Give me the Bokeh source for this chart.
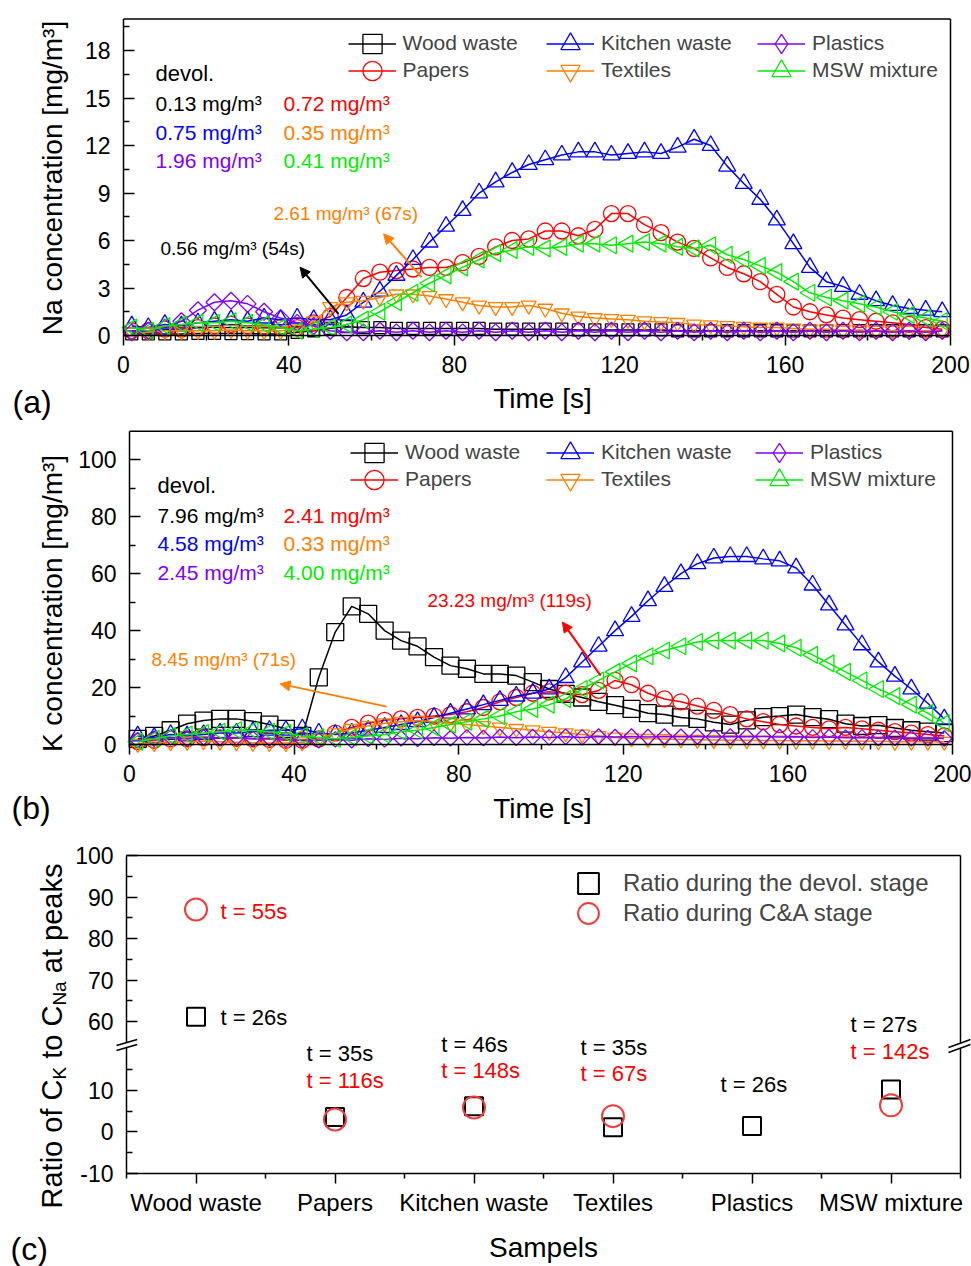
import math
import numpy as np
from bokeh.plotting import figure
from bokeh.layouts import column
from bokeh.models import (Range1d, FixedTicker, Legend, LegendItem, Label, Arrow,
                          NormalHead, CustomJSTickFormatter)
from bokeh.embed import file_html
from bokeh.resources import INLINE

FONT = "Liberation Sans"
BLACK, RED, BLUE, ORANGE, PURPLE, GREEN = "#000000", "#FF0000", "#0000FF", "#FF8000", "#8000FF", "#00EE00"

# ---------------- data ----------------
series_names = ["Wood waste", "Papers", "Kitchen waste", "Textiles", "Plastics", "MSW mixture"]
time_s = list(range(2, 200, 4))   # sampling times [s]

na_wood = [0.1, 0.1, 0.1, 0.1, 0.13, 0.13, 0.12, 0.12, 0.1, 0.1,
           0.2, 0.3, 0.45, 0.56, 0.5, 0.5, 0.45, 0.45, 0.45, 0.45,
           0.45, 0.45, 0.4, 0.4, 0.4, 0.4, 0.4, 0.35, 0.35, 0.35,
           0.35, 0.35, 0.35, 0.3, 0.3, 0.3, 0.3, 0.3, 0.3, 0.3,
           0.3, 0.3, 0.3, 0.3, 0.3, 0.3, 0.3, 0.3, 0.3, 0.3]
na_papers = [0.3, 0.3, 0.4, 0.4, 0.5, 0.6, 0.7, 0.6, 0.6, 0.5,
             0.5, 0.8, 1.2, 2.4, 3.6, 4.0, 4.1, 4.2, 4.3, 4.3,
             4.6, 5.0, 5.6, 6.0, 6.1, 6.6, 6.6, 6.3, 6.7, 7.7,
             7.7, 7.0, 6.5, 5.9, 5.5, 4.9, 4.3, 3.9, 3.4, 2.6,
             1.8, 1.5, 1.3, 1.1, 1.0, 0.9, 0.8, 0.7, 0.5, 0.4]
na_kitchen = [0.6, 0.5, 0.7, 0.6, 0.8, 0.9, 1.0, 0.9, 1.1, 1.0,
              1.1, 1.0, 1.0, 1.3, 2.1, 2.8, 3.8, 4.8, 5.9, 6.9,
              7.9, 9.0, 9.7, 10.3, 10.8, 11.1, 11.4, 11.6, 11.6, 11.4,
              11.5, 11.6, 11.5, 11.9, 12.4, 12.0, 10.7, 9.6, 8.6, 7.3,
              5.8, 4.3, 3.4, 3.1, 2.6, 2.2, 1.9, 1.7, 1.6, 1.5]
na_textiles = [0.2, 0.2, 0.3, 0.3, 0.3, 0.3, 0.35, 0.3, 0.3, 0.3,
               0.4, 0.9, 1.8, 2.1, 2.2, 2.4, 2.6, 2.6, 2.5, 2.3,
               2.1, 1.9, 1.8, 1.8, 1.9, 1.7, 1.4, 1.2, 1.1, 1.05,
               1.0, 0.9, 0.85, 0.8, 0.7, 0.65, 0.6, 0.55, 0.5, 0.5,
               0.45, 0.4, 0.4, 0.35, 0.35, 0.3, 0.3, 0.3, 0.3, 0.3]
na_plastics = [0.2, 0.3, 0.5, 0.9, 1.6, 2.1, 2.2, 2.0, 1.5, 1.1,
               0.8, 0.6, 0.3, 0.2, 0.2, 0.3, 0.2, 0.3, 0.2, 0.3,
               0.2, 0.3, 0.2, 0.3, 0.2, 0.3, 0.2, 0.3, 0.2, 0.3,
               0.2, 0.3, 0.2, 0.3, 0.2, 0.3, 0.2, 0.3, 0.2, 0.3,
               0.2, 0.3, 0.2, 0.3, 0.2, 0.3, 0.2, 0.3, 0.2, 0.3]
na_msw = [0.5, 0.3, 0.6, 0.7, 0.8, 0.8, 0.9, 0.8, 0.7, 0.5,
          0.3, 0.4, 0.5, 0.7, 1.0, 1.5, 2.1, 2.7, 3.3, 3.8,
          4.3, 4.8, 5.2, 5.4, 5.6, 5.5, 5.6, 5.8, 5.8, 5.7,
          5.8, 5.9, 5.8, 5.6, 5.5, 5.7, 5.1, 4.8, 4.4, 4.0,
          3.4, 2.7, 2.4, 2.2, 2.0, 1.8, 1.5, 1.3, 1.1, 0.9]

k_wood = [2.0, 3.0, 5.0, 7.3, 8.4, 9.0, 9.0, 8.2, 7.0, 5.5,
          3.0, 23.6, 39.5, 48.5, 45.9, 40.0, 36.5, 34.5, 30.7, 27.7,
          26.6, 24.8, 24.8, 24.2, 21.9, 19.5, 17.8, 16.5, 15.0, 13.8,
          12.5, 11.0, 10.5, 9.5, 9.0, 7.8, 7.0, 8.5, 9.6, 10.0,
          10.5, 9.6, 8.9, 7.3, 6.5, 6.8, 5.8, 5.0, 4.5, 4.0]
k_papers = [1.0, 1.5, 2.0, 2.0, 2.4, 2.3, 2.2, 2.0, 1.8, 1.5,
            1.5, 2.0, 4.0, 6.0, 7.5, 8.5, 9.0, 9.5, 10.0, 10.5,
            11.5, 13.0, 15.0, 16.5, 18.0, 18.5, 18.0, 17.5, 19.0, 22.5,
            21.0, 18.0, 16.0, 15.0, 13.5, 12.0, 10.5, 9.0, 8.0, 7.0,
            6.5, 6.0, 5.5, 6.0, 5.5, 5.0, 4.5, 4.0, 3.5, 3.0]
k_kitchen = [3.0, 2.5, 3.5, 3.0, 3.5, 4.0, 4.0, 4.5, 5.0, 5.0,
             5.5, 4.0, 3.5, 4.0, 5.0, 6.0, 7.0, 8.0, 9.5, 11.0,
             12.5, 14.0, 15.5, 17.0, 18.0, 19.5, 23.5, 29.0, 34.5, 40.0,
             45.0, 50.5, 55.5, 60.0, 63.5, 65.5, 66.0, 66.0, 65.2, 64.5,
             62.0, 56.0, 49.0, 42.0, 35.0, 29.0, 24.0, 19.5, 14.5, 9.0]
k_textiles = [0.3, 0.5, 0.8, 1.0, 1.2, 1.0, 0.8, 0.6, 0.5, 0.5,
              0.8, 2.0, 4.0, 5.5, 6.5, 7.5, 8.0, 8.4, 8.0, 7.5,
              7.0, 6.5, 6.0, 5.5, 5.0, 4.5, 4.0, 3.5, 3.0, 2.5,
              2.2, 2.0, 1.9, 1.8, 1.7, 1.6, 1.5, 1.5, 1.4, 1.4,
              1.3, 1.3, 1.2, 1.2, 1.1, 1.1, 1.0, 1.0, 1.0, 1.0]
k_plastics = [1.5, 2.0, 2.5, 2.0, 2.5, 2.4, 2.5, 2.0, 2.2, 1.8,
              1.5, 1.5, 1.8, 1.5, 2.0, 1.8, 2.2, 2.0, 2.4, 2.2,
              2.5, 2.3, 2.6, 2.4, 2.6, 2.5, 2.7, 2.5, 2.8, 2.6,
              2.8, 2.6, 2.8, 2.7, 2.8, 2.6, 2.8, 2.7, 2.8, 2.6,
              2.7, 2.5, 2.6, 2.4, 2.5, 2.3, 2.4, 2.2, 2.3, 2.1]
k_msw = [1.0, 2.0, 3.0, 3.5, 4.0, 4.5, 5.0, 5.0, 4.5, 4.0,
         3.0, 2.5, 2.0, 2.5, 3.0, 3.5, 4.5, 5.0, 6.0, 7.0,
         8.0, 9.0, 10.0, 11.5, 12.5, 14.0, 16.0, 19.5, 22.5, 25.5,
         28.5, 31.0, 33.0, 34.5, 36.0, 36.5, 36.5, 36.5, 36.5, 35.5,
         34.0, 31.5, 28.5, 25.5, 22.5, 19.5, 17.0, 14.0, 11.0, 7.5]

# devolatilisation-stage peak concentrations (same order as series_names)
na_devol = [0.13, 0.72, 0.75, 0.35, 1.96, 0.41]
k_devol = [7.96, 2.41, 4.58, 0.33, 2.45, 4.00]

# panel (c): ratio of C_K to C_Na at peaks
ratio_devol = [61.2, 3.6, 6.2, 1.1, 1.4, 10.2]
ratio_ca = [87.0, 3.0, 5.9, 3.8, np.nan, 6.4]
devol_peak_time = [26, 35, 46, 35, 26, 27]
ca_peak_time = [55, 116, 148, 67, None, 142]

na_series = [na_wood, na_papers, na_kitchen, na_textiles, na_plastics, na_msw]
k_series = [k_wood, k_papers, k_kitchen, k_textiles, k_plastics, k_msw]

# styles: colour, marker, angle, size in (a), size in (b), legend marker
styles = [
    (BLACK, "square", 0.0, 12, 17, "square"),
    (RED, "circle", 0.0, 16, 16, "circle"),
    (BLUE, "triangle", 0.0, 17, 17, "triangle"),
    (ORANGE, "inverted_triangle", 0.0, 15, 15, "inverted_triangle"),
    (PURPLE, "square", math.pi / 4, 12, 11, "diamond"),
    (GREEN, "triangle", math.pi / 2, 17, 17, "triangle"),
]
devol_colors = [BLACK, RED, BLUE, ORANGE, PURPLE, GREEN]


def canvas_fig(height, xr, yr):
    # the frame fills the whole canvas; axes are pinned to the plot box edges
    p = figure(width=971, height=height, x_range=xr, y_range=yr,
               output_backend="svg", toolbar_location=None,
               min_border=0, min_border_left=0, min_border_right=0,
               min_border_top=0, min_border_bottom=0)
    p.grid.visible = False
    p.background_fill_color = "white"
    p.border_fill_color = "white"
    p.outline_line_color = None
    for ax in p.axis:
        ax.axis_line_color = None
        ax.major_tick_line_width = 1.5
        ax.minor_tick_line_width = 1.5
        ax.major_label_text_font = FONT
        ax.major_label_text_font_size = "23px"
        ax.major_label_text_color = "black"
    p.xaxis.major_tick_in = 0
    p.xaxis.major_tick_out = 10
    p.xaxis.minor_tick_in = 0
    p.xaxis.minor_tick_out = 5
    p.yaxis.major_tick_in = 11
    p.yaxis.major_tick_out = 0
    p.yaxis.minor_tick_in = 6
    p.yaxis.minor_tick_out = 0
    p.xaxis.major_label_standoff = 10
    p.yaxis.major_label_standoff = 13
    return p


def add_label(p, x, y, text, color=BLACK, size="21px", align="left",
              baseline="middle", angle=0.0):
    p.add_layout(Label(x=x, y=y, text=text, text_color=color, text_font=FONT,
                       text_font_size=size, text_align=align,
                       text_baseline=baseline, angle=angle))


def add_arrow(p, xs, ys, xe, ye, color):
    p.add_layout(Arrow(end=NormalHead(size=10, fill_color=color, line_color=color, line_width=1),
                       x_start=xs, y_start=ys, x_end=xe, y_end=ye,
                       line_color=color, line_width=2))


def seg(p, x0, y0, x1, y1, w=1.5):
    p.add_layout(Arrow(start=None, end=None, x_start=x0, y_start=y0, x_end=x1, y_end=y1,
                       line_color=BLACK, line_width=w))


def box(p, x0, x1, y0, y1):
    seg(p, x0, y0, x1, y0)
    seg(p, x0, y1, x1, y1)
    seg(p, x0, y0, x0, y1)
    seg(p, x1, y0, x1, y1)


def single_legend(p, item, left, bottom, gw, gh, fs, standoff):
    p.add_layout(Legend(items=[item], location=(left, bottom), orientation="vertical",
                        glyph_width=gw, glyph_height=gh, spacing=0, padding=0, margin=0,
                        border_line_color=None, background_fill_alpha=0.0,
                        label_text_font=FONT, label_text_font_size=fs,
                        label_standoff=standoff))


def time_panel(height, top, tx, vy, ymax, yticks, yminor, data, size_idx,
               legend_lefts, legend_rows):
    p = canvas_fig(height, Range1d(tx(0), tx(971)), Range1d(vy(top + height), vy(top)))
    p.xaxis.fixed_location = 0
    p.yaxis.fixed_location = 0
    p.xaxis.ticker = FixedTicker(ticks=[0, 40, 80, 120, 160, 200],
                                 minor_ticks=[20, 60, 100, 140, 180])
    p.yaxis.ticker = FixedTicker(ticks=yticks, minor_ticks=yminor)
    items = []
    for name, vals, st in zip(series_names, data, styles):
        color, marker, ang, sa, sb, lmarker = st
        size = sa if size_idx == 0 else sb
        rl = p.line(time_s, vals, line_color=color, line_width=1.5)
        rs = p.scatter(time_s, vals, marker=marker, angle=ang, size=size,
                       line_color=color, fill_color=None, line_width=1.3)
        if lmarker != marker:
            # legend key only (no data drawn)
            rs = p.scatter(np.array([np.nan]), np.array([np.nan]), marker=lmarker, size=size,
                           line_color=color, fill_color=None, line_width=1.3)
        items.append(LegendItem(label=name, renderers=[rl, rs]))
    box(p, 0, 200, 0, ymax)
    for i, it in enumerate(items):
        lx = legend_lefts[i // 2]
        cy = legend_rows[i % 2] - top
        single_legend(p, it, lx, height - cy - 27.5, 48, 55, "21px", 7)
    return p


# ---------------- panel (a) ----------------
def ax_a(px): return (px - 123) / 4.135
def ay_a(py): return (335 - py) / 15.83


pa = time_panel(420, 0, ax_a, ay_a, 20, [0, 3, 6, 9, 12, 15, 18],
                [1.5, 4.5, 7.5, 10.5, 13.5, 16.5, 19.5], na_series, 0,
                [347.5, 546, 757], [43, 70])
add_label(pa, ax_a(155), ay_a(73), "devol.", size="22px")
rows_a = [103.3, 131.7, 160]
for i, (v, c) in enumerate(zip(na_devol, devol_colors)):
    colx = 155 if i % 2 == 0 else 283
    add_label(pa, ax_a(colx), ay_a(rows_a[i // 2]), f"{v:.2f} mg/m³", color=c)
add_label(pa, ax_a(160), ay_a(248), "0.56 mg/m³ (54s)", size="19px")
add_label(pa, ax_a(273), ay_a(213), "2.61 mg/m³ (67s)", color=ORANGE, size="19px")
add_arrow(pa, 52.0, 1.37, 42.7, 4.31, BLACK)
add_arrow(pa, 72.1, 3.68, 62.9, 6.42, ORANGE)
add_label(pa, ax_a(542), ay_a(398), "Time [s]", size="28px", align="center")
add_label(pa, ax_a(52), ay_a(177.5), "Na concentration [mg/m³]", size="28px",
          align="center", baseline="alphabetic", angle=math.pi / 2)
add_label(pa, ax_a(12), ay_a(401), "(a)", size="32px")


# ---------------- panel (b) ----------------
def ax_b(px): return (px - 129) / 4.115
def ay_b(py): return (744 - py) / 2.847


pb = time_panel(410, 420, ax_b, ay_b, 110, [0, 20, 40, 60, 80, 100],
                [10, 30, 50, 70, 90], k_series, 1,
                [350, 546, 755], [452, 479])
add_label(pb, ax_b(157), ay_b(485), "devol.", size="22px")
rows_b = [515, 543.3, 571.7]
for i, (v, c) in enumerate(zip(k_devol, devol_colors)):
    colx = 157 if i % 2 == 0 else 283
    add_label(pb, ax_b(colx), ay_b(rows_b[i // 2]), f"{v:.2f} mg/m³", color=c)
add_label(pb, ax_b(151), ay_b(659), "8.45 mg/m³ (71s)", color=ORANGE, size="19px")
add_label(pb, ax_b(427), ay_b(600), "23.23 mg/m³ (119s)", color=RED, size="19px")
add_arrow(pb, 62.5, 13.3, 36.6, 21.3, ORANGE)
add_arrow(pb, 114.5, 24.2, 105.2, 43.0, RED)
add_label(pb, ax_b(542), ay_b(808), "Time [s]", size="28px", align="center")
add_label(pb, ax_b(52), ay_b(603), "K concentration [mg/m³]", size="28px",
          align="center", baseline="alphabetic", angle=math.pi / 2)
add_label(pb, ax_b(11), ay_b(807), "(b)", size="32px")

# ---------------- panel (c) ----------------
BREAK_AT, BREAK_SHIFT = 21.0, 33.5


def disp(v):
    return v - BREAK_SHIFT if v > BREAK_AT else v


def ax_c(px): return 0.5 + (px - 126) / 139
def ay_c(py): return (1173 - py) / 4.157 - 10


pc = canvas_fig(436, Range1d(ax_c(0), ax_c(971)), Range1d(ay_c(1266), ay_c(830)))
pc.xaxis.fixed_location = -10
pc.yaxis.fixed_location = 0.5
pc.xaxis.major_label_standoff = 5
xs_c = list(range(1, len(series_names) + 1))
pc.xaxis.ticker = FixedTicker(ticks=xs_c, minor_ticks=[0.5, 1.5, 2.5, 3.5, 4.5, 5.5, 6.5])
pc.xaxis.major_label_overrides = {i + 1: n for i, n in enumerate(series_names)}
pc.xaxis.major_label_text_font_size = "24px"
upper_major = [60, 70, 80, 90, 100]
upper_minor = [65, 75, 85, 95]
pc.yaxis.ticker = FixedTicker(ticks=[-10, 0, 10] + [disp(v) for v in upper_major],
                              minor_ticks=[-5, 5, 15] + [disp(v) for v in upper_minor])
pc.yaxis.formatter = CustomJSTickFormatter(
    args=dict(at=BREAK_AT, shift=BREAK_SHIFT),
    code="return (tick > at ? tick + shift : tick).toFixed(0);")

r_sq = pc.scatter(xs_c, [disp(v) for v in ratio_devol], marker="square", size=18,
                  line_color=BLACK, fill_color=None, line_width=2)
r_ci = pc.scatter(xs_c, np.array([disp(v) for v in ratio_ca]), marker="circle", size=22,
                  line_color="#F23A3A", fill_color=None, line_width=2)
single_legend(pc, LegendItem(label="Ratio during the devol. stage", renderers=[r_sq]),
              562, 436 - (883 - 830) - 26, 52, 52, "24px", 9)
single_legend(pc, LegendItem(label="Ratio during C&A stage", renderers=[r_ci]),
              562, 436 - (913 - 830) - 26, 52, 52, "24px", 9)

# peak-time annotations
ann_pos = [((220, 1017), (220, 911)), ((306, 1053), (306, 1080)), ((440.7, 1044), (440.7, 1070)),
           ((580, 1046.7), (580, 1073.3)), ((720, 1084), None), ((850, 1024.3), (850, 1051))]
for (pd, pca), td, tc in zip(ann_pos, devol_peak_time, ca_peak_time):
    add_label(pc, ax_c(pd[0]), ay_c(pd[1]), f"t = {td}s", size="22px")
    if tc is not None:
        add_label(pc, ax_c(pca[0]), ay_c(pca[1]), f"t = {tc}s", color=RED, size="22px")

# y-axis title with subscripts
ypieces = [("Ratio of C", "29px", 51, 1208), ("K", "19px", 59, 1079.1),
           ("to C", "29px", 51, 1058.3), ("Na", "19px", 59, 1005.1),
           ("at peaks", "29px", 51, 972.7)]
for txt, fs, bx, by in ypieces:
    add_label(pc, ax_c(bx), ay_c(by), txt, size=fs, baseline="alphabetic", angle=math.pi / 2)

# plot box with axis breaks
top_c = disp(100)
seg(pc, 0.5, top_c, 6.5, top_c)
seg(pc, 0.5, -10, 6.5, -10)
seg(pc, 0.5, -10, 0.5, ay_c(1047.1))
seg(pc, 0.5, ay_c(1042.1), 0.5, top_c)
seg(pc, 6.5, -10, 6.5, ay_c(1048))
seg(pc, 6.5, ay_c(1043), 6.5, top_c)
seg(pc, ax_c(116), ay_c(1045), ax_c(136.7), ay_c(1039))
seg(pc, ax_c(116), ay_c(1050), ax_c(136.7), ay_c(1044))
seg(pc, ax_c(948), ay_c(1047), ax_c(970), ay_c(1039))
seg(pc, ax_c(948), ay_c(1052), ax_c(970), ay_c(1044))
add_label(pc, ax_c(543), ay_c(1247), "Sampels", size="28px", align="center")
add_label(pc, ax_c(10), ay_c(1248), "(c)", size="32px")

layout = column(pa, pb, pc, spacing=0)
open("out.html", "w").write(file_html(layout, INLINE))
